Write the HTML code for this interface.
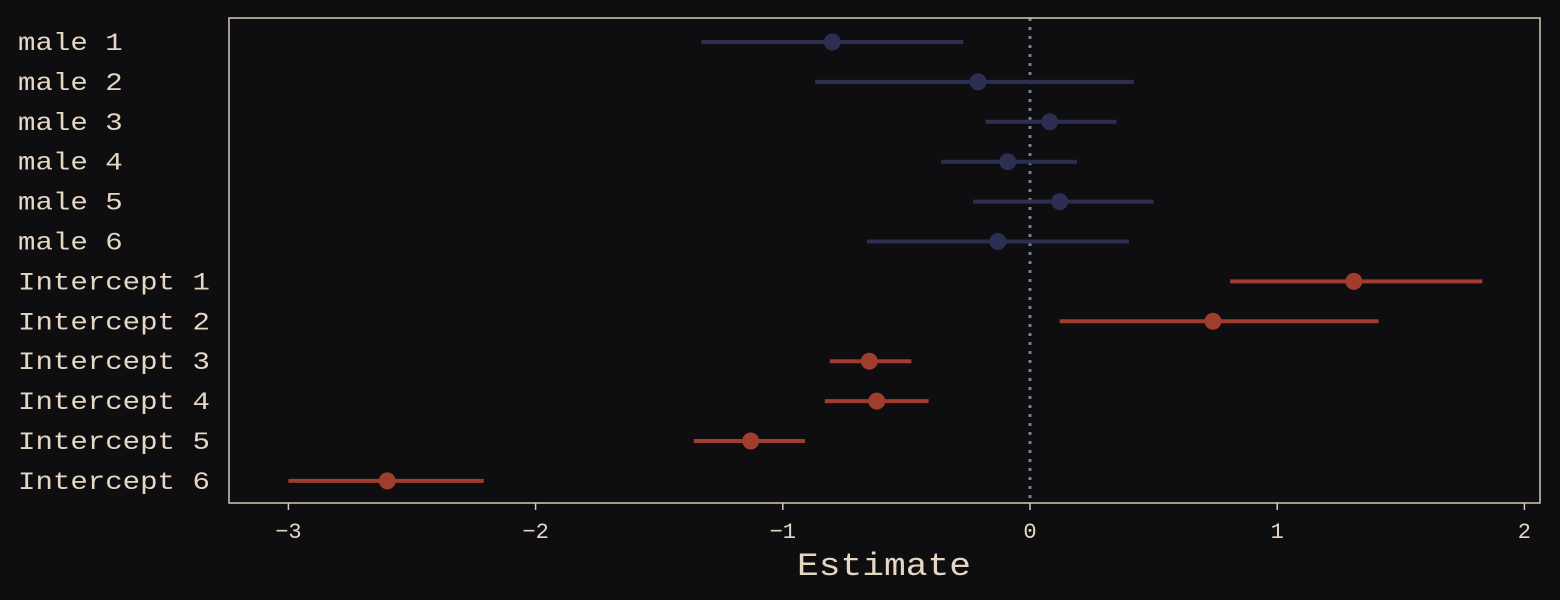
<!DOCTYPE html>
<html><head><meta charset="utf-8">
<style>
html,body{margin:0;padding:0;background:#0e0e10;}
svg{display:block;}
text{font-family:"Liberation Mono","Courier New",monospace;fill:#e6d6c4;}
</style></head>
<body>
<svg id="chart" width="1560" height="600" viewBox="0 0 1560 600" xmlns="http://www.w3.org/2000/svg">
<rect width="1560" height="600" fill="#0e0e10"/>
<g id="marks"></g>
<rect x="229" y="18" width="1311" height="485" fill="none" stroke="#d8c8b6" stroke-width="1.5"/>
<text x="797" y="575" font-size="32" textLength="174" lengthAdjust="spacingAndGlyphs">Estimate</text>
</svg>
<script>
const labels = ["male 1","male 2","male 3","male 4","male 5","male 6","Intercept 1","Intercept 2","Intercept 3","Intercept 4","Intercept 5","Intercept 6"];
const estimates = [-0.80,-0.21,0.08,-0.09,0.12,-0.13,1.31,0.74,-0.65,-0.62,-1.13,-2.60];
const lower = [-1.33,-0.87,-0.18,-0.36,-0.23,-0.66,0.81,0.12,-0.81,-0.83,-1.36,-3.00];
const upper = [-0.27,0.42,0.35,0.19,0.50,0.40,1.83,1.41,-0.48,-0.41,-0.91,-2.21];
const groups = ["male","male","male","male","male","male","int","int","int","int","int","int"];
const xTicks = [-3,-2,-1,0,1,2];
const xTickLabels = ["\u22123","\u22122","\u22121","0","1","2"];

const NS="http://www.w3.org/2000/svg";
const g=document.getElementById('marks');
const svg=document.getElementById('chart');
const xs=v=>1030+v*247.2;
const ys=i=>42+i*39.9;
const colors={male:"#2c2f52",int:"#a03d2e"};
function mk(t,a){const e=document.createElementNS(NS,t);for(const k in a)e.setAttribute(k,a[k]);return e;}

const zl=mk('line',{x1:xs(0),x2:xs(0),y1:18,y2:503,stroke:"#7a7f96","stroke-width":3,"stroke-dasharray":"3 6"});


g.appendChild(zl);

labels.forEach((lab,i)=>{
  const c=colors[groups[i]];
  const ln=mk('line',{x1:xs(lower[i]),x2:xs(upper[i]),y1:ys(i),y2:ys(i),stroke:c,"stroke-width":4});
  
  
  g.appendChild(ln);
  const pt=mk('circle',{cx:xs(estimates[i]),cy:ys(i),r:8.5,fill:c});
  
  
  g.appendChild(pt);
  const t=mk('text',{x:18,y:ys(i)+8,"font-size":25,textLength:(lab.length*17.45).toFixed(1),lengthAdjust:"spacingAndGlyphs"});
  t.textContent=lab;
  
  
  svg.appendChild(t);
});
xTicks.forEach((v,i)=>{
  const tk=mk('line',{x1:xs(v),x2:xs(v),y1:503,y2:510,stroke:"#d8c8b6","stroke-width":1.5});
  
  
  svg.appendChild(tk);
  const t=mk('text',{x:xs(v),y:538,"font-size":22,"text-anchor":"middle"});
  t.textContent=xTickLabels[i];
  
  
  svg.appendChild(t);
});
</script>
</body></html>
